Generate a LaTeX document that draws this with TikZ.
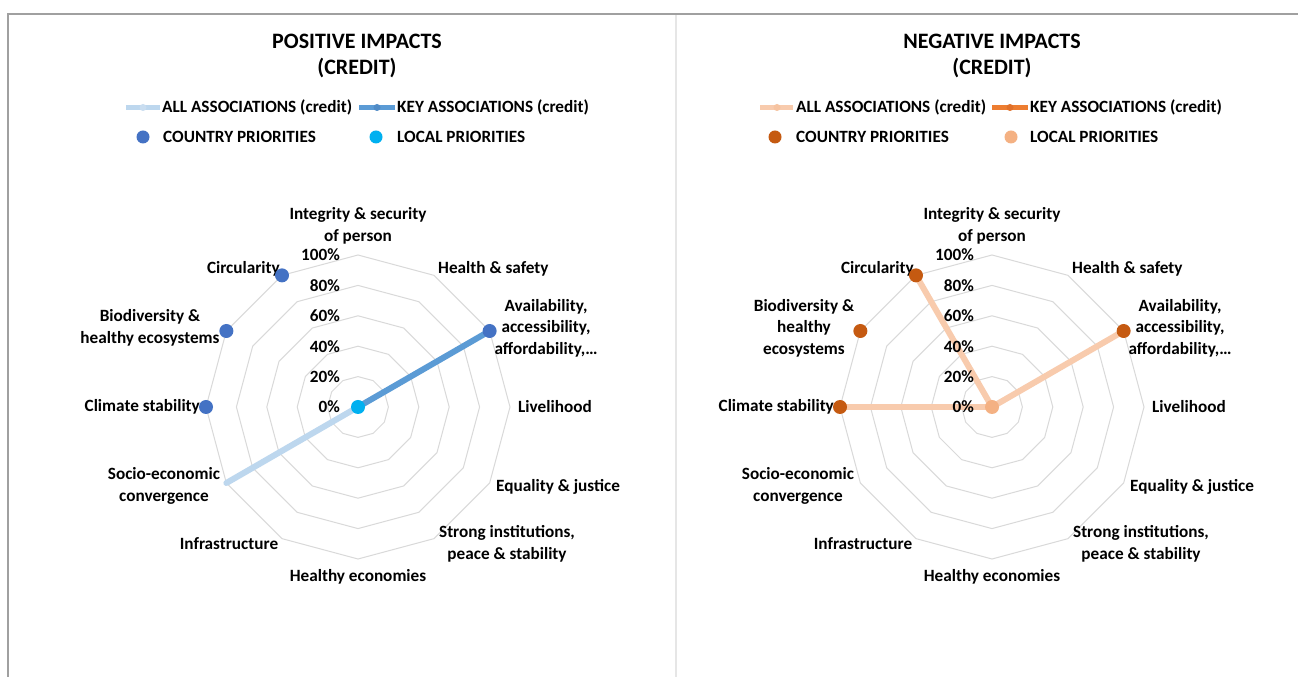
\documentclass[tikz,border=0pt]{standalone}
\usepackage{fontspec}
\setmainfont{Carlito}
\definecolor{framegray}{HTML}{A0A0A0}
\definecolor{divgray}{HTML}{E6E6E6}
\definecolor{ringgray}{HTML}{D9D9D9}
\definecolor{allblue}{HTML}{BDD7EE}
\definecolor{allbluem}{HTML}{C9DDF0}
\definecolor{keyblue}{HTML}{5B9BD5}
\definecolor{keybluem}{HTML}{4F8BC6}
\definecolor{ctryblue}{HTML}{4472C4}
\definecolor{localcyan}{HTML}{00B0F0}
\definecolor{allpeach}{HTML}{F8CBAD}
\definecolor{allpeachm}{HTML}{F6C3A0}
\definecolor{keyorange}{HTML}{ED7D31}
\definecolor{keyorangem}{HTML}{E0702A}
\definecolor{ctryorange}{HTML}{C55A11}
\definecolor{localpeach}{HTML}{F4B183}
\begin{document}
\begin{tikzpicture}[x=1pt,y=1pt]
\tikzset{
  lbl/.style={inner sep=0pt, font=\fontsize{17.2}{21.5}\selectfont\bfseries, align=center},
  ttl/.style={inner sep=0pt, font=\fontsize{22}{26}\selectfont\bfseries, align=center},
  ring/.style={draw=ringgray, line width=1pt},
  series/.style={line width=6pt, line cap=round},
  legline/.style={line width=5.5pt},
  dot/.style={circle, inner sep=0pt, minimum size=14pt},
  legdot/.style={circle, inner sep=0pt, minimum size=13pt},
  legmark/.style={circle, inner sep=0pt, minimum size=7pt},
}
\useasboundingbox (0,0) rectangle (1298,677);
\fill[white] (0,0) rectangle (1298,677);
% frame
\coordinate (fbl) at (8,0);
\coordinate (ftl) at (8,663);
\coordinate (ftr) at (1298,663);
\coordinate (dvt) at (676,663);
\coordinate (dvb) at (676,0);
\draw[divgray, line width=2pt] (dvt) -- (dvb);
\draw[framegray, line width=1.3pt] (fbl) -- (ftl) -- (ftr);

% ================= LEFT: POSITIVE =================
\node[ttl] (ltitle) at (357,621) {POSITIVE IMPACTS\\(CREDIT)};
% legend
\coordinate (lla1) at (126,569.5); \coordinate (lla2) at (160,569.5);
\draw[legline, allblue] (lla1) -- (lla2);
\node[legmark, fill=allbluem] (llam) at (143,569.5) {};
\node[lbl, anchor=west] (llat) at (162,569.5) {ALL ASSOCIATIONS (credit)};
\coordinate (llk1) at (359,569.5); \coordinate (llk2) at (395,569.5);
\draw[legline, keyblue] (llk1) -- (llk2);
\node[legmark, fill=keybluem] (llkm) at (377,569.5) {};
\node[lbl, anchor=west] (llkt) at (397,569.5) {KEY ASSOCIATIONS (credit)};
\node[legdot, fill=ctryblue] (llcd) at (143,540) {};
\node[lbl, anchor=west] (llct) at (163,540) {COUNTRY PRIORITIES};
\node[legdot, fill=localcyan] (llld) at (376,540) {};
\node[lbl, anchor=west] (lllt) at (397,540) {LOCAL PRIORITIES};

\begin{scope}[shift={(358,270)}]
  \foreach \k in {1,...,5}
    \draw[ring] (90:{\k*30.4}) \foreach \a in {60,30,...,-240}{ -- (\a:{\k*30.4})} -- cycle;
  \coordinate (Lc) at (0,0);
  \foreach \i in {0,...,11} \coordinate (La\i) at ({90-30*\i}:152);
  % category labels
  \node[lbl] (Lcat0) at (0,181) {Integrity \& security\\of person};
  \node[lbl, anchor=west] (Lcat1) at (80,138) {Health \& safety};
  \node[lbl] (Lcat2) at (188,79) {Availability,\\accessibility,\\affordability,\dots};
  \node[lbl, anchor=west] (Lcat3) at (160,0) {Livelihood};
  \node[lbl, anchor=west] (Lcat4) at (138,-80) {Equality \& justice};
  \node[lbl] (Lcat5) at (149,-137) {Strong institutions,\\peace \& stability};
  \node[lbl] (Lcat6) at (0,-170) {Healthy economies};
  \node[lbl] (Lcat7) at (-129,-137) {Infrastructure};
  \node[lbl] (Lcat8) at (-194,-79) {Socio-economic\\convergence};
  \node[lbl, anchor=east] (Lcat9) at (-158,0) {Climate stability};
  \node[lbl] (Lcat10) at (-208,79) {Biodiversity \&\\healthy ecosystems};
  \node[lbl, anchor=east] (Lcat11) at (-78,138) {Circularity};
  % series
  \draw[series, allblue] (Lc) -- (La8);
  \draw[series, keyblue] (Lc) -- (La2);
  % ticks
  \foreach \k/\t in {0/0,1/20,2/40,3/60,4/80,5/100}
    \node[lbl, anchor=east] (Ltick\k) at (-18,{\k*30.4}) {\t\%};
  % dots
  \node[dot, fill=ctryblue] (Ld2) at (La2) {};
  \node[dot, fill=ctryblue] (Ld9) at (La9) {};
  \node[dot, fill=ctryblue] (Ld10) at (La10) {};
  \node[dot, fill=ctryblue] (Ld11) at (La11) {};
  \node[dot, fill=localcyan] (Llc) at (Lc) {};
\end{scope}

% ================= RIGHT: NEGATIVE =================
\node[ttl] (rtitle) at (992,621) {NEGATIVE IMPACTS\\(CREDIT)};
\coordinate (rla1) at (760,569.5); \coordinate (rla2) at (793,569.5);
\draw[legline, allpeach] (rla1) -- (rla2);
\node[legmark, fill=allpeachm] (rlam) at (777,569.5) {};
\node[lbl, anchor=west] (rlat) at (796,569.5) {ALL ASSOCIATIONS (credit)};
\coordinate (rlk1) at (992,569.5); \coordinate (rlk2) at (1028,569.5);
\draw[legline, keyorange] (rlk1) -- (rlk2);
\node[legmark, fill=keyorangem] (rlkm) at (1010,569.5) {};
\node[lbl, anchor=west] (rlkt) at (1030,569.5) {KEY ASSOCIATIONS (credit)};
\node[legdot, fill=ctryorange] (rlcd) at (775,540) {};
\node[lbl, anchor=west] (rlct) at (796,540) {COUNTRY PRIORITIES};
\node[legdot, fill=localpeach] (rlld) at (1011,540) {};
\node[lbl, anchor=west] (rllt) at (1030,540) {LOCAL PRIORITIES};

\begin{scope}[shift={(992,270)}]
  \foreach \k in {1,...,5}
    \draw[ring] (90:{\k*30.4}) \foreach \a in {60,30,...,-240}{ -- (\a:{\k*30.4})} -- cycle;
  \coordinate (Rc) at (0,0);
  \foreach \i in {0,...,11} \coordinate (Ra\i) at ({90-30*\i}:152);
  \node[lbl] (Rcat0) at (0,181) {Integrity \& security\\of person};
  \node[lbl, anchor=west] (Rcat1) at (80,138) {Health \& safety};
  \node[lbl] (Rcat2) at (188,79) {Availability,\\accessibility,\\affordability,\dots};
  \node[lbl, anchor=west] (Rcat3) at (160,0) {Livelihood};
  \node[lbl, anchor=west] (Rcat4) at (138,-80) {Equality \& justice};
  \node[lbl] (Rcat5) at (149,-137) {Strong institutions,\\peace \& stability};
  \node[lbl] (Rcat6) at (0,-170) {Healthy economies};
  \node[lbl] (Rcat7) at (-129,-137) {Infrastructure};
  \node[lbl] (Rcat8) at (-194,-79) {Socio-economic\\convergence};
  \node[lbl, anchor=east] (Rcat9) at (-158,0) {Climate stability};
  \node[lbl] (Rcat10) at (-188,79) {Biodiversity \&\\healthy\\ecosystems};
  \node[lbl, anchor=east] (Rcat11) at (-78,138) {Circularity};
  \draw[series, allpeach] (Ra11) -- (Rc) -- (Ra2);
  \draw[series, allpeach] (Rc) -- (Ra9);
  \foreach \k/\t in {0/0,1/20,2/40,3/60,4/80,5/100}
    \node[lbl, anchor=east] (Rtick\k) at (-18,{\k*30.4}) {\t\%};
  \node[dot, fill=ctryorange] (Rd2) at (Ra2) {};
  \node[dot, fill=ctryorange] (Rd9) at (Ra9) {};
  \node[dot, fill=ctryorange] (Rd10) at (Ra10) {};
  \node[dot, fill=ctryorange] (Rd11) at (Ra11) {};
  \node[dot, fill=localpeach] (Rlc) at (Rc) {};
\end{scope}
\end{tikzpicture}
\end{document}
